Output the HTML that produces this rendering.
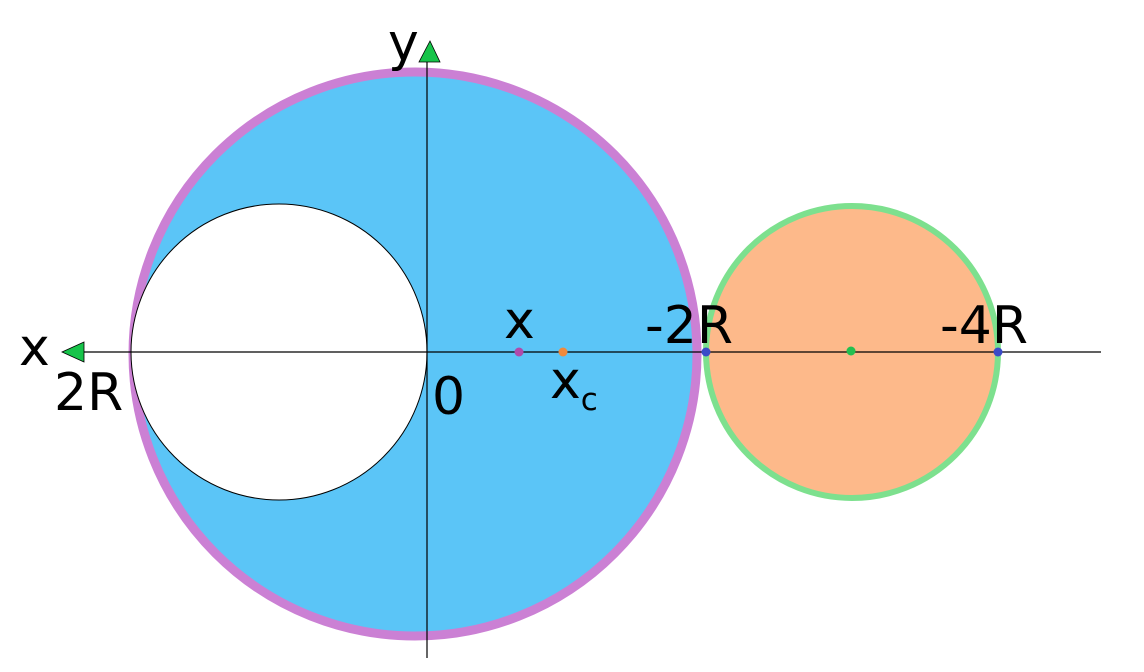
<!DOCTYPE html>
<html><head><meta charset="utf-8"><style>
html,body{margin:0;padding:0;background:#fff;width:1144px;height:672px;overflow:hidden}
text{font-family:"DejaVu Sans","Liberation Sans",sans-serif;font-size:52px;fill:#000}
</style></head><body>
<svg width="1144" height="672" viewBox="0 0 1144 672">
<circle cx="415" cy="354" r="282" fill="#5bc5f7" stroke="#cb80d4" stroke-width="9"/>
<circle cx="279" cy="352" r="148" fill="#fff" stroke="#000" stroke-width="1"/>
<circle cx="852" cy="352" r="146" fill="#fdb98a" stroke="#7de08e" stroke-width="6"/>
<line x1="78" y1="352" x2="1101" y2="352" stroke="#000" stroke-width="1.2"/>
<line x1="427" y1="62" x2="427" y2="658" stroke="#000" stroke-width="1.2"/>
<polygon points="430,41 440,62 419,62" fill="#17c44a" stroke="#000" stroke-width="0.8"/>
<polygon points="62,352 84,342 84,362" fill="#17c44a" stroke="#000" stroke-width="0.8"/>
<circle cx="519" cy="352" r="4.5" fill="#b04aac"/>
<circle cx="563" cy="352" r="4.5" fill="#f08a3c"/>
<circle cx="706" cy="352" r="4.5" fill="#3b4bc8"/>
<circle cx="851" cy="351" r="4.5" fill="#22c050"/>
<circle cx="998" cy="352" r="4.5" fill="#3b4bc8"/>
<text x="388" y="60">y</text>
<text x="19" y="365">x</text>
<text x="54" y="410">2R</text>
<text x="432" y="414">0</text>
<text x="504" y="338">x</text>
<text x="550" y="398">x<tspan font-size="31" dy="12">c</tspan></text>
<text x="645" y="343">-2R</text>
<text x="940" y="343">-4R</text>
</svg>
</body></html>
